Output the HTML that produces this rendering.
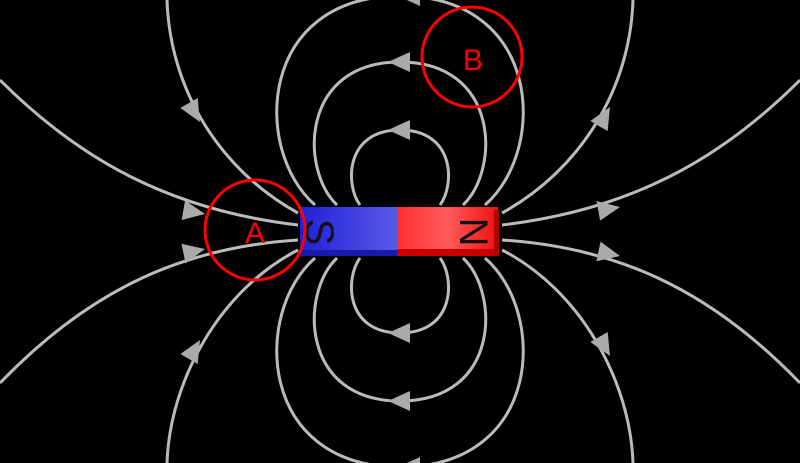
<!DOCTYPE html>
<html><head><style>html,body{margin:0;padding:0;background:#000}svg{display:block}</style></head>
<body>
<svg width="800" height="463" viewBox="0 0 800 463" xmlns="http://www.w3.org/2000/svg">
<defs>
<linearGradient id="b" x1="0" x2="1"><stop offset="0" stop-color="#2020d8"/><stop offset="1" stop-color="#5a5ae8"/></linearGradient>
<linearGradient id="r" x1="0" x2="1"><stop offset="0" stop-color="#ff3030"/><stop offset="0.5" stop-color="#ff5a5a"/><stop offset="1" stop-color="#f01010"/></linearGradient>
<polygon id="ar" points="0,0 -22,-10 -22,10" fill="#aaa"/>
</defs>
<g fill="none" stroke="#bbb" stroke-width="3">
<g id="loops">
<path d="M315,205 C252,150 258,-4 400,-4 C542,-4 548,150 485,205"/>
<path d="M337,205 C300,170 300,62 400,62 C500,62 500,170 463,205"/>
<path d="M360,205 C345,185 345,130 400,130 C455,130 455,185 440,205"/>
</g>
<use href="#loops" transform="translate(0,463) scale(1,-1)"/>
<g id="outer">
<path d="M167,0 C170,90 220,170 298,213"/>
<path d="M0,80 C80,160 170,210 298,225"/>
<path d="M0,383 C80,300 170,248 298,240"/>
<path d="M167,463 C170,380 220,290 298,250"/>
</g>
<use href="#outer" transform="translate(800,0) scale(-1,1)"/>
</g>
<use href="#ar" transform="translate(200,122) rotate(60)"/>
<use href="#ar" transform="translate(205,214) rotate(10)"/>
<use href="#ar" transform="translate(205,249) rotate(-12)"/>
<use href="#ar" transform="translate(200,340) rotate(-60)"/>
<use href="#ar" transform="translate(610,107) rotate(-60)"/>
<use href="#ar" transform="translate(620,207) rotate(-10)"/>
<use href="#ar" transform="translate(620,256) rotate(12)"/>
<use href="#ar" transform="translate(610,356) rotate(60)"/>
<use href="#ar" transform="translate(388,62) rotate(180)"/>
<use href="#ar" transform="translate(388,130) rotate(180)"/>
<use href="#ar" transform="translate(388,333) rotate(180)"/>
<use href="#ar" transform="translate(388,401) rotate(180)"/>
<use href="#ar" transform="translate(398,-4) rotate(180)"/>
<use href="#ar" transform="translate(398,467) rotate(180)"/>
<rect x="300" y="207" width="98" height="49" fill="url(#b)"/>
<rect x="300" y="250" width="98" height="6" fill="#1a1aa8"/>
<rect x="397" y="207" width="101" height="49" fill="url(#r)"/>
<rect x="397" y="249" width="101" height="7" fill="#c80000"/>
<rect x="494" y="210" width="5" height="46" fill="#b00000"/>
<text x="0" y="0" font-family="Liberation Sans, sans-serif" font-size="40" fill="#111" text-anchor="middle" transform="translate(306,232) rotate(90)">S</text>
<text x="0" y="0" font-family="Liberation Sans, sans-serif" font-size="40" fill="#111" text-anchor="middle" transform="translate(460,232) rotate(90)">N</text>
<circle cx="255" cy="230" r="50" fill="none" stroke="#f00" stroke-width="3"/>
<circle cx="472" cy="57" r="50" fill="none" stroke="#f00" stroke-width="3"/>
<text x="255" y="243" font-family="Liberation Sans, sans-serif" font-size="30" fill="#f00" text-anchor="middle">A</text>
<text x="473" y="70" font-family="Liberation Sans, sans-serif" font-size="30" fill="#f00" text-anchor="middle">B</text>
</svg>
</body></html>
